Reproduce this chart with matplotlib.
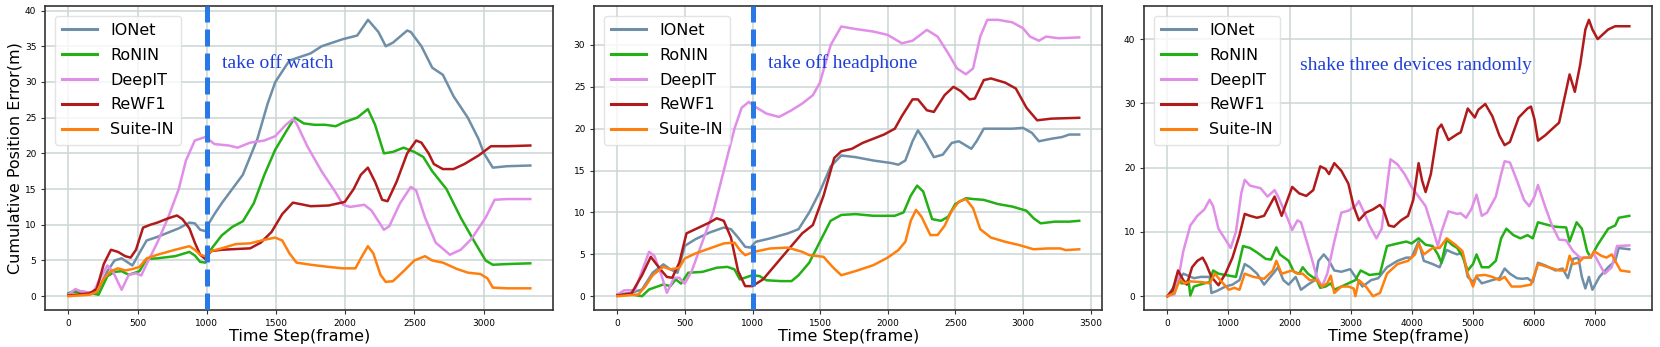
import matplotlib
matplotlib.use("Agg")
import matplotlib.pyplot as plt

# ---------------- data ----------------
series_names = ["IONet", "RoNIN", "DeepIT", "ReWF1", "Suite-IN"]
series_colors = ["#6e8fa7", "#22b014", "#e08ee8", "#b01a1a", "#ff7f0e"]

# Panel 1 (take off watch)
p1_ionet_x = [0, 50, 152, 204, 281, 333, 384, 462, 526, 565, 642, 797, 874, 913, 952, 990, 1008, 1055, 1107, 1260, 1365, 1440, 1495, 1597, 1750, 1830, 1985, 2087, 2165, 2240, 2293, 2345, 2448, 2474, 2551, 2629, 2706, 2783, 2886, 2964, 3003, 3067, 3170, 3338]
p1_ionet_y = [0.3, 0.8, 0.5, 0.5, 3.5, 5.0, 5.3, 4.3, 6.5, 7.8, 8.3, 9.5, 10.3, 10.2, 9.3, 9.1, 10.0, 11.5, 13.0, 17.0, 22.0, 27.0, 30.0, 33.0, 34.0, 35.0, 36.0, 36.5, 38.7, 37.0, 35.0, 35.5, 37.2, 37.0, 35.0, 32.0, 31.0, 28.0, 25.0, 22.0, 20.0, 18.0, 18.2, 18.3]
p1_ronin_x = [0, 23, 152, 217, 281, 333, 384, 436, 513, 565, 642, 771, 874, 913, 952, 990, 1016, 1107, 1184, 1261, 1339, 1416, 1494, 1571, 1635, 1700, 1777, 1855, 1932, 1984, 2087, 2164, 2216, 2280, 2345, 2422, 2500, 2564, 2629, 2732, 2835, 2938, 3015, 3067, 3170, 3338]
p1_ronin_y = [0.4, 0.6, 0.5, 0.2, 2.8, 3.4, 3.5, 3.0, 3.5, 5.2, 5.3, 5.6, 6.2, 5.7, 4.8, 4.7, 6.2, 8.5, 9.7, 10.5, 13.0, 17.0, 20.5, 23.0, 25.0, 24.2, 24.0, 24.0, 23.8, 24.3, 25.0, 26.2, 24.0, 20.0, 20.2, 20.8, 20.2, 19.5, 17.5, 15.0, 11.0, 7.5, 5.0, 4.4, 4.5, 4.6]
p1_deepit_x = [0, 49, 100, 178, 230, 281, 320, 384, 436, 488, 526, 565, 642, 720, 797, 849, 913, 990, 1055, 1158, 1223, 1313, 1416, 1494, 1571, 1622, 1648, 1726, 1829, 1932, 1984, 2035, 2138, 2190, 2280, 2319, 2396, 2474, 2513, 2577, 2654, 2757, 2835, 2912, 3015, 3080, 3170, 3338]
p1_deepit_y = [0.2, 1.0, 0.6, 0.5, 2.5, 4.3, 3.5, 0.9, 3.0, 3.2, 2.9, 4.5, 7.5, 11.0, 15.0, 19.0, 21.8, 22.3, 21.3, 21.1, 20.8, 21.5, 21.8, 22.4, 24.0, 24.8, 24.2, 21.0, 17.5, 14.5, 12.8, 12.5, 12.8, 12.0, 9.3, 9.8, 13.0, 15.3, 14.8, 11.0, 7.5, 5.8, 6.5, 8.0, 11.0, 13.5, 13.6, 13.6]
p1_rewf1_x = [0, 152, 204, 255, 307, 358, 410, 449, 488, 539, 591, 642, 720, 784, 823, 874, 913, 952, 990, 1029, 1107, 1210, 1313, 1390, 1468, 1545, 1622, 1674, 1751, 1880, 1997, 2061, 2113, 2164, 2216, 2267, 2306, 2371, 2448, 2513, 2551, 2603, 2641, 2706, 2783, 2861, 2964, 3054, 3170, 3338]
p1_rewf1_y = [0.1, 0.4, 1.0, 4.5, 6.5, 6.2, 5.6, 5.4, 6.5, 9.6, 10.0, 10.3, 10.9, 11.3, 10.8, 9.5, 7.5, 5.8, 5.2, 6.3, 6.5, 6.6, 6.7, 7.5, 9.0, 11.5, 13.1, 12.9, 12.6, 12.7, 13.2, 15.0, 17.0, 18.0, 16.0, 13.5, 13.3, 16.0, 20.0, 21.8, 21.5, 20.0, 18.5, 17.8, 17.8, 18.5, 19.7, 21.0, 21.0, 21.1]
p1_suite_x = [0, 152, 204, 255, 307, 358, 410, 462, 513, 565, 642, 771, 874, 913, 952, 990, 1029, 1107, 1210, 1313, 1416, 1494, 1545, 1597, 1648, 1751, 1880, 1984, 2074, 2113, 2164, 2203, 2255, 2293, 2345, 2422, 2500, 2577, 2629, 2706, 2809, 2886, 2977, 3028, 3067, 3170, 3338]
p1_suite_y = [0.0, 0.2, 0.6, 2.5, 3.5, 3.9, 3.6, 3.8, 4.1, 5.3, 5.8, 6.5, 7.0, 6.5, 5.8, 5.6, 6.3, 6.7, 7.3, 7.4, 7.9, 8.2, 7.8, 6.0, 4.7, 4.4, 4.1, 3.9, 3.9, 5.3, 7.0, 6.0, 3.0, 2.0, 2.1, 3.5, 5.0, 5.6, 5.0, 4.7, 3.8, 3.3, 3.1, 2.5, 1.2, 1.1, 1.1]

# Panel 2 (take off headphone)
p2_ionet_x = [0, 103, 182, 261, 340, 392, 445, 498, 577, 682, 787, 840, 893, 945, 985, 1024, 1130, 1261, 1340, 1419, 1498, 1578, 1656, 1762, 1893, 2025, 2078, 2130, 2183, 2223, 2275, 2341, 2407, 2473, 2526, 2618, 2657, 2710, 2815, 2921, 3000, 3066, 3118, 3210, 3289, 3342, 3416]
p2_ionet_y = [0.2, 0.4, 0.8, 2.8, 3.8, 3.2, 2.8, 6.0, 6.8, 7.6, 8.2, 8.0, 7.0, 5.9, 5.8, 6.5, 6.9, 7.5, 8.0, 10.0, 12.5, 15.5, 16.8, 16.6, 16.2, 15.9, 15.7, 16.2, 18.5, 19.8, 18.5, 16.6, 16.9, 18.3, 18.5, 17.6, 18.5, 20.0, 20.0, 20.0, 20.1, 19.5, 18.5, 18.8, 19.0, 19.3, 19.3]
p2_ronin_x = [0, 103, 182, 234, 340, 392, 432, 471, 524, 629, 735, 814, 866, 906, 998, 1051, 1103, 1209, 1288, 1340, 1419, 1498, 1577, 1656, 1762, 1893, 2052, 2117, 2170, 2217, 2262, 2328, 2394, 2447, 2499, 2578, 2631, 2710, 2815, 2921, 3026, 3079, 3131, 3237, 3342, 3416]
p2_ronin_y = [0.1, 0.2, 0.0, 0.8, 1.4, 1.2, 2.0, 1.5, 2.8, 2.9, 3.4, 3.5, 3.2, 2.0, 2.5, 2.4, 1.9, 1.8, 1.8, 2.5, 4.0, 6.5, 9.0, 9.7, 9.8, 9.6, 9.6, 10.0, 12.0, 13.2, 12.5, 9.2, 9.0, 9.5, 11.0, 11.7, 11.6, 11.5, 11.0, 10.7, 10.2, 9.3, 8.7, 8.9, 8.9, 9.0]
p2_deepit_x = [0, 50, 129, 182, 234, 274, 326, 366, 419, 458, 498, 550, 629, 708, 787, 866, 919, 972, 1011, 1103, 1196, 1288, 1367, 1446, 1498, 1578, 1656, 1762, 1893, 1999, 2104, 2183, 2289, 2368, 2447, 2512, 2578, 2631, 2684, 2736, 2815, 2921, 3000, 3052, 3118, 3171, 3263, 3416]
p2_deepit_y = [0.2, 0.7, 0.7, 3.0, 5.3, 4.8, 2.5, 0.4, 2.2, 2.2, 1.5, 3.0, 6.5, 10.0, 15.0, 20.0, 22.5, 23.2, 22.7, 21.8, 21.4, 22.2, 23.0, 24.0, 25.5, 30.0, 32.2, 31.9, 31.6, 31.2, 30.2, 30.5, 31.8, 31.0, 29.0, 27.2, 26.5, 27.2, 31.0, 33.0, 33.0, 32.7, 32.0, 31.0, 30.5, 31.0, 30.8, 30.9]
p2_rewf1_x = [0, 103, 182, 247, 313, 366, 406, 458, 511, 577, 682, 735, 787, 840, 893, 945, 998, 1077, 1156, 1261, 1367, 1446, 1525, 1604, 1656, 1735, 1814, 1893, 1972, 2052, 2104, 2183, 2223, 2289, 2341, 2420, 2486, 2539, 2605, 2644, 2710, 2763, 2868, 2947, 3026, 3105, 3210, 3416]
p2_rewf1_y = [0.1, 0.3, 2.5, 4.7, 3.3, 2.3, 2.2, 4.0, 7.5, 8.0, 8.8, 9.3, 9.0, 7.0, 3.0, 1.2, 1.2, 2.0, 3.5, 5.5, 7.5, 8.5, 12.0, 16.5, 17.3, 17.6, 18.3, 18.8, 19.3, 20.0, 21.5, 23.5, 23.5, 22.2, 22.0, 24.0, 25.0, 24.5, 23.5, 23.6, 25.8, 26.0, 25.5, 24.8, 22.5, 21.0, 21.2, 21.3]
p2_suite_x = [0, 155, 208, 261, 340, 392, 458, 498, 577, 682, 787, 866, 906, 945, 1011, 1130, 1261, 1367, 1419, 1525, 1591, 1656, 1762, 1893, 1999, 2078, 2130, 2170, 2209, 2249, 2315, 2368, 2420, 2473, 2526, 2578, 2631, 2684, 2763, 2868, 2973, 3079, 3184, 3276, 3316, 3416]
p2_suite_y = [0.0, 0.2, 1.2, 2.5, 3.5, 3.2, 3.4, 4.5, 5.1, 5.7, 6.3, 6.4, 5.5, 4.9, 5.3, 5.7, 5.8, 5.3, 4.9, 4.7, 3.5, 2.5, 3.0, 3.7, 4.6, 5.5, 6.5, 9.0, 10.3, 9.5, 7.3, 7.3, 8.4, 10.2, 11.3, 11.6, 10.5, 8.0, 7.0, 6.5, 6.1, 5.6, 5.7, 5.7, 5.5, 5.6]

# Panel 3 (shake three devices randomly)
p3_ionet_x = [0, 144, 259, 432, 547, 691, 720, 806, 950, 1065, 1180, 1266, 1353, 1468, 1583, 1756, 1813, 1899, 1986, 2101, 2188, 2302, 2418, 2475, 2562, 2648, 2734, 2850, 2994, 3080, 3195, 3339, 3454, 3598, 3771, 3915, 4001, 4116, 4202, 4346, 4461, 4576, 4663, 4749, 4835, 4922, 5008, 5066, 5152, 5325, 5440, 5526, 5613, 5728, 5814, 5901, 5987, 6073, 6188, 6361, 6476, 6563, 6649, 6735, 6792, 6850, 6908, 6965, 7080, 7224, 7339, 7397, 7570]
p3_ionet_y = [0.0, 2.0, 3.5, 2.8, 3.0, 3.0, 0.5, 0.8, 1.5, 1.8, 2.5, 5.0, 4.5, 3.5, 1.8, 3.8, 4.5, 2.5, 1.8, 3.0, 1.0, 1.8, 2.5, 5.5, 6.5, 5.5, 4.0, 3.8, 4.2, 3.0, 1.5, 2.5, 2.8, 4.5, 5.5, 6.0, 6.0, 8.5, 5.5, 5.0, 4.5, 7.2, 6.8, 6.5, 6.8, 3.0, 2.2, 3.0, 2.0, 2.5, 2.8, 4.3, 3.5, 2.8, 2.7, 2.8, 2.2, 5.2, 4.8, 4.0, 4.3, 2.8, 5.8, 6.0, 3.0, 1.2, 3.0, 1.0, 3.0, 4.5, 5.5, 7.5, 7.3]
p3_ronin_x = [0, 86, 173, 230, 288, 345, 374, 432, 604, 691, 748, 835, 950, 1122, 1238, 1353, 1468, 1612, 1698, 1784, 1842, 1986, 2072, 2159, 2216, 2302, 2447, 2504, 2590, 2677, 2734, 2850, 2965, 3080, 3166, 3310, 3483, 3598, 3771, 3915, 4001, 4116, 4231, 4346, 4432, 4490, 4576, 4663, 4749, 4835, 4922, 5008, 5066, 5152, 5267, 5382, 5469, 5555, 5670, 5785, 5901, 5987, 6073, 6188, 6361, 6534, 6591, 6706, 6792, 6879, 6937, 7052, 7224, 7339, 7397, 7570]
p3_ronin_y = [0.0, 0.8, 2.8, 2.0, 2.0, 2.5, 0.1, 1.5, 2.0, 2.2, 4.0, 3.5, 3.3, 3.0, 7.8, 7.5, 6.8, 5.8, 5.7, 7.6, 6.5, 5.5, 3.8, 3.5, 4.5, 3.5, 2.5, 1.3, 1.5, 2.0, 1.0, 1.5, 2.0, 2.5, 4.0, 3.3, 3.5, 7.8, 8.2, 8.5, 8.2, 9.0, 8.0, 7.8, 6.5, 5.2, 8.8, 8.0, 7.5, 6.2, 4.0, 5.0, 6.5, 4.5, 4.5, 5.5, 9.0, 10.5, 9.5, 9.0, 9.5, 9.0, 11.5, 11.2, 10.8, 10.7, 8.5, 11.5, 10.5, 7.0, 6.0, 8.0, 10.5, 11.0, 12.2, 12.5]
p3_deepit_x = [0, 115, 173, 259, 374, 489, 604, 691, 748, 835, 950, 1036, 1122, 1209, 1266, 1353, 1525, 1640, 1756, 1813, 1928, 2044, 2130, 2188, 2274, 2360, 2447, 2533, 2619, 2734, 2850, 2965, 3080, 3137, 3224, 3310, 3425, 3511, 3598, 3655, 3771, 3886, 4001, 4116, 4231, 4346, 4432, 4490, 4605, 4749, 4807, 4893, 4979, 5066, 5152, 5238, 5382, 5469, 5526, 5613, 5728, 5843, 5930, 6016, 6073, 6188, 6303, 6419, 6534, 6649, 6764, 6879, 6994, 7080, 7167, 7282, 7368, 7570]
p3_deepit_y = [0.0, 0.3, 2.5, 7.0, 11.0, 12.5, 13.5, 15.0, 14.0, 10.5, 8.8, 7.5, 10.0, 16.0, 18.1, 17.2, 16.8, 15.5, 16.5, 15.5, 13.0, 10.3, 11.8, 11.5, 8.8, 6.0, 3.0, 1.5, 3.5, 8.5, 13.0, 13.3, 14.0, 14.8, 13.0, 11.0, 9.0, 10.5, 17.0, 21.3, 20.5, 19.0, 17.0, 15.5, 14.0, 10.5, 7.8, 10.0, 13.2, 12.8, 12.9, 12.2, 13.5, 15.8, 12.5, 13.0, 15.5, 19.0, 21.0, 20.8, 18.0, 15.0, 14.0, 15.5, 17.3, 14.0, 11.0, 8.8, 8.7, 7.0, 6.0, 6.0, 6.5, 5.0, 3.5, 4.5, 7.8, 7.9]
p3_rewf1_x = [0, 86, 173, 259, 317, 403, 489, 576, 633, 720, 835, 950, 1065, 1180, 1266, 1353, 1468, 1583, 1698, 1756, 1813, 1871, 1986, 2044, 2159, 2274, 2389, 2504, 2590, 2648, 2734, 2850, 2965, 3051, 3137, 3252, 3368, 3483, 3540, 3627, 3713, 3828, 3943, 4029, 4116, 4173, 4231, 4317, 4432, 4490, 4605, 4749, 4807, 4922, 5037, 5094, 5209, 5325, 5440, 5526, 5613, 5757, 5901, 5958, 6016, 6073, 6188, 6303, 6419, 6534, 6591, 6677, 6764, 6850, 6908, 6965, 7052, 7224, 7339, 7570]
p3_rewf1_y = [0.0, 1.0, 4.0, 2.5, 1.8, 4.5, 5.5, 6.0, 5.0, 3.0, 1.7, 3.5, 6.0, 9.5, 12.8, 12.5, 12.2, 12.5, 14.5, 15.5, 14.0, 12.5, 15.5, 17.0, 16.0, 15.6, 16.5, 20.2, 19.8, 19.0, 20.7, 19.5, 17.5, 14.0, 11.8, 13.0, 13.5, 14.2, 13.5, 11.0, 10.8, 11.8, 12.5, 15.0, 20.7, 18.0, 16.2, 19.0, 26.0, 26.7, 24.3, 25.2, 25.5, 29.2, 27.8, 29.0, 29.9, 28.0, 25.0, 23.5, 24.0, 27.8, 29.2, 29.5, 27.5, 24.2, 25.0, 26.0, 27.0, 32.0, 34.5, 31.8, 36.0, 41.5, 43.0, 41.5, 40.0, 41.5, 42.0, 42.0]
p3_suite_x = [0, 115, 201, 288, 374, 547, 691, 777, 864, 1007, 1094, 1180, 1266, 1410, 1583, 1727, 1784, 1871, 2044, 2130, 2216, 2331, 2447, 2533, 2619, 2677, 2734, 2850, 2965, 3051, 3080, 3137, 3252, 3368, 3483, 3598, 3771, 3943, 4058, 4116, 4202, 4346, 4461, 4576, 4720, 4835, 4922, 5008, 5066, 5209, 5325, 5440, 5526, 5641, 5785, 5958, 6073, 6246, 6419, 6534, 6591, 6649, 6735, 6822, 6937, 6994, 7109, 7195, 7282, 7368, 7426, 7570]
p3_suite_y = [0.0, 0.5, 2.5, 2.0, 2.3, 2.2, 2.0, 3.5, 2.5, 1.0, 1.3, 1.0, 3.5, 3.0, 2.7, 4.0, 5.5, 3.5, 4.0, 3.5, 3.5, 2.5, 2.5, 1.5, 2.0, 3.2, 0.5, 1.5, 1.5, 1.2, 0.0, 2.5, 1.5, 0.0, 0.5, 3.5, 5.0, 5.5, 6.5, 8.2, 6.5, 7.5, 7.5, 9.0, 8.0, 7.0, 3.5, 1.5, 3.2, 3.3, 3.0, 2.5, 3.0, 1.5, 1.5, 1.8, 5.0, 4.5, 4.0, 4.0, 6.3, 5.0, 5.2, 6.0, 6.0, 7.0, 6.3, 6.0, 6.5, 5.0, 4.0, 3.8]

panel_series = [
    [(p1_ionet_x, p1_ionet_y), (p1_ronin_x, p1_ronin_y), (p1_deepit_x, p1_deepit_y), (p1_rewf1_x, p1_rewf1_y), (p1_suite_x, p1_suite_y)],
    [(p2_ionet_x, p2_ionet_y), (p2_ronin_x, p2_ronin_y), (p2_deepit_x, p2_deepit_y), (p2_rewf1_x, p2_rewf1_y), (p2_suite_x, p2_suite_y)],
    [(p3_ionet_x, p3_ionet_y), (p3_ronin_x, p3_ronin_y), (p3_deepit_x, p3_deepit_y), (p3_rewf1_x, p3_rewf1_y), (p3_suite_x, p3_suite_y)],
]
annotations = ["take off watch", "take off headphone", "shake three devices randomly"]
annot_pos = [(1107, 31.9), (1117, 27.2), (2164, 35.2)]
event_x = [1000, 1000, None]
x_ticks = [[0, 500, 1000, 1500, 2000, 2500, 3000],
           [0, 500, 1000, 1500, 2000, 2500, 3000, 3500],
           [0, 1000, 2000, 3000, 4000, 5000, 6000, 7000]]
y_ticks = [[0, 5, 10, 15, 20, 25, 30, 35, 40],
           [0, 5, 10, 15, 20, 25, 30],
           [0, 10, 20, 30, 40]]

# ---------------- figure ----------------
fig = plt.figure(figsize=(16.6, 3.47), dpi=100)
lefts = [45.4, 594.3, 1144.4]
W, H = 1660.0, 347.0
axw = 508.0
bottom = 37.0
axh = 304.0

for i in range(3):
    ax = fig.add_axes([lefts[i] / W, bottom / H, axw / W, axh / H])
    ax.grid(True, color="#ccd4d4", linewidth=1.1, zorder=0)
    ax.set_axisbelow(True)
    for (xs, ys), name, col in zip(panel_series[i], series_names, series_colors):
        ax.plot(xs, ys, color=col, lw=1.8, label=name, zorder=3)
    ax.set_xticks(x_ticks[i])
    ax.set_yticks(y_ticks[i])
    ax.tick_params(labelsize=6.5, length=3, width=0.8, color="#333333")
    for s in ax.spines.values():
        s.set_color("#333333")
        s.set_linewidth(1.2)
    if event_x[i] is not None:
        ax.axvline(event_x[i], color="#2878e6", lw=3.6, ls=(0, (3.4, 1.4)), zorder=4)
    ax.text(annot_pos[i][0], annot_pos[i][1], annotations[i], family="Liberation Serif",
            fontsize=14, color="#1f3fd6", va="baseline", ha="left", zorder=5)
    ax.set_xlabel("Time Step(frame)", fontsize=11.5, labelpad=1)
    if i == 0:
        ax.set_ylabel("Cumulative Position Error(m)", fontsize=11.5, labelpad=1.5)
    leg = ax.legend(loc="upper left", fontsize=11.5, handlelength=2.2, handletextpad=0.8,
                    labelspacing=0.62, borderpad=0.45, borderaxespad=0.6,
                    framealpha=0.8, edgecolor="#dddddd")
    for ln in leg.get_lines():
        ln.set_linewidth(2.2)

fig.savefig("out.png", dpi=100)
